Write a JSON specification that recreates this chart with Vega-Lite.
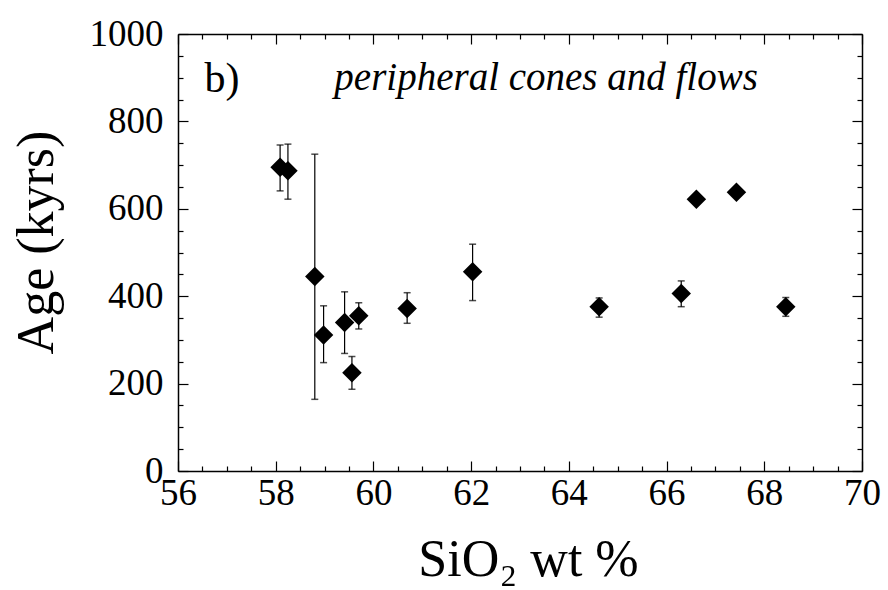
{
  "$schema": "https://vega.github.io/schema/vega-lite/v6.json",
  "autosize": {"type": "none"},
  "padding": {"left": 178, "top": 34, "right": 26, "bottom": 119},
  "width": 684,
  "height": 437,
  "background": "white",
  "config": {
    "view": {"stroke": null},
    "axis": {
      "domainColor": "black", "domainWidth": 1.5,
      "tickColor": "black", "tickWidth": 1.2,
      "labelFont": "Liberation Serif", "labelFontSize": 37, "labelColor": "black",
      "titleFont": "Liberation Serif", "titleFontSize": 52, "titleFontWeight": "normal", "titleColor": "black",
      "grid": false
    }
  },
  "data": {"values": [
    {"sio2": 58.09, "age": 695, "lo": 641, "hi": 746},
    {"sio2": 58.25, "age": 687, "lo": 622, "hi": 748},
    {"sio2": 58.80, "age": 445, "lo": 164, "hi": 725},
    {"sio2": 58.98, "age": 311, "lo": 248, "hi": 378},
    {"sio2": 59.41, "age": 340, "lo": 269, "hi": 410},
    {"sio2": 59.70, "age": 355, "lo": 325, "hi": 385},
    {"sio2": 59.56, "age": 225, "lo": 187, "hi": 262},
    {"sio2": 60.69, "age": 372, "lo": 338, "hi": 408},
    {"sio2": 62.03, "age": 456, "lo": 390, "hi": 519},
    {"sio2": 64.62, "age": 376, "lo": 352, "hi": 396},
    {"sio2": 66.30, "age": 406, "lo": 376, "hi": 435},
    {"sio2": 66.61, "age": 622, "lo": null, "hi": null},
    {"sio2": 67.43, "age": 638, "lo": null, "hi": null},
    {"sio2": 68.44, "age": 376, "lo": 354, "hi": 397}
  ]},
  "resolve": {"axis": {"x": "independent", "y": "independent"}},
  "layer": [
    {
      "transform": [{"filter": "datum.lo != null"}],
      "mark": {"type": "rule", "color": "black", "strokeWidth": 1.2},
      "encoding": {
        "x": {"field": "sio2", "type": "quantitative",
          "scale": {"domain": [56, 70], "nice": false, "zero": false},
          "axis": {"orient": "bottom", "values": [56,56.5,57,57.5,58,58.5,59,59.5,60,60.5,61,61.5,62,62.5,63,63.5,64,64.5,65,65.5,66,66.5,67,67.5,68,68.5,69,69.5,70],
            "tickSize": {"condition": {"test": "datum.value % 2 === 0", "value": -10}, "value": -5},
            "labelExpr": "datum.value % 2 === 0 ? format(datum.value, 'd') : ''",
            "labelPadding": 14, "labelFlush": false, "labelOverlap": false,
            "title": "SiO₂ wt %", "titlePadding": 18, "titleX": 350}},
        "y": {"field": "lo", "type": "quantitative",
          "scale": {"domain": [0, 1000], "nice": false},
          "axis": {"orient": "left", "values": [0,50,100,150,200,250,300,350,400,450,500,550,600,650,700,750,800,850,900,950,1000],
            "tickSize": {"condition": {"test": "datum.value % 200 === 0", "value": -10}, "value": -5},
            "labelExpr": "datum.value % 200 === 0 ? format(datum.value, 'd') : ''",
            "labelPadding": 25, "labelFlush": false, "labelOverlap": false,
            "title": "Age (kyrs)", "titlePadding": 26, "titleY": 208}},
        "y2": {"field": "hi"}
      }
    },
    {
      "transform": [{"filter": "datum.lo != null"}],
      "mark": {"type": "tick", "color": "black", "orient": "horizontal", "size": 7, "thickness": 1.5},
      "encoding": {
        "x": {"field": "sio2", "type": "quantitative",
          "axis": {"orient": "top", "values": [56,56.5,57,57.5,58,58.5,59,59.5,60,60.5,61,61.5,62,62.5,63,63.5,64,64.5,65,65.5,66,66.5,67,67.5,68,68.5,69,69.5,70],
            "tickSize": {"condition": {"test": "datum.value % 2 === 0", "value": -10}, "value": -5},
            "labels": false, "title": null}},
        "y": {"field": "lo", "type": "quantitative",
          "axis": {"orient": "right", "values": [0,50,100,150,200,250,300,350,400,450,500,550,600,650,700,750,800,850,900,950,1000],
            "tickSize": {"condition": {"test": "datum.value % 200 === 0", "value": -10}, "value": -5},
            "labels": false, "title": null}}
      }
    },
    {
      "transform": [{"filter": "datum.hi != null"}],
      "mark": {"type": "tick", "color": "black", "orient": "horizontal", "size": 7, "thickness": 1.5},
      "encoding": {
        "x": {"field": "sio2", "type": "quantitative", "axis": null},
        "y": {"field": "hi", "type": "quantitative", "axis": null}
      }
    },
    {
      "mark": {"type": "point", "shape": "diamond", "filled": true, "color": "black", "opacity": 1, "size": 380},
      "encoding": {
        "x": {"field": "sio2", "type": "quantitative", "axis": null},
        "y": {"field": "age", "type": "quantitative", "axis": null}
      }
    },
    {
      "data": {"values": [{"label": "b)", "x": 56.54, "y": 867}]},
      "mark": {"type": "text", "font": "Liberation Serif", "fontSize": 42, "align": "left", "baseline": "alphabetic", "color": "black"},
      "encoding": {
        "x": {"field": "x", "type": "quantitative", "axis": null},
        "y": {"field": "y", "type": "quantitative", "axis": null},
        "text": {"field": "label"}
      }
    },
    {
      "data": {"values": [{"label": "peripheral cones and flows", "x": 59.2, "y": 872}]},
      "mark": {"type": "text", "font": "Liberation Serif", "fontSize": 39, "fontStyle": "italic", "align": "left", "baseline": "alphabetic", "color": "black"},
      "encoding": {
        "x": {"field": "x", "type": "quantitative", "axis": null},
        "y": {"field": "y", "type": "quantitative", "axis": null},
        "text": {"field": "label"}
      }
    }
  ]
}
